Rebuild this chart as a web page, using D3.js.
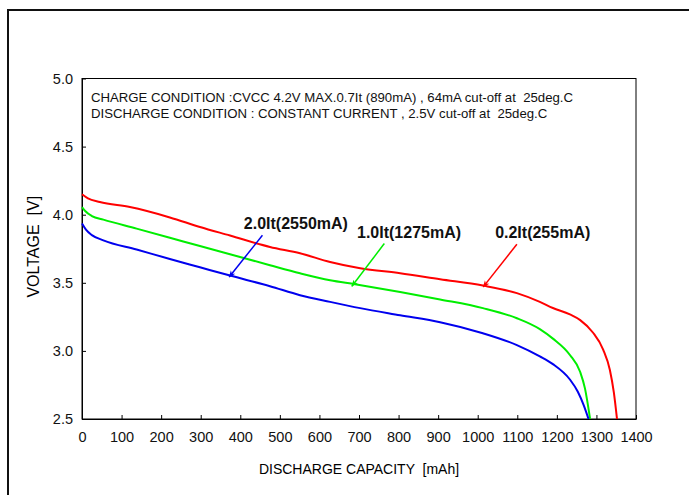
<!DOCTYPE html>
<html>
<head>
<meta charset="utf-8">
<script src="https://cdn.jsdelivr.net/npm/d3@7"></script>
<style>
  body { margin: 0; background: #fff; }
  svg text { font-family: "Liberation Sans", Arial, sans-serif; white-space: pre; }
</style>
</head>
<body>
<svg id="chart" width="689" height="495"></svg>
<script>
// discharge curves
const capacity02 = [0, 15, 45, 121, 222, 298, 374, 475, 551, 627, 703, 804, 905, 1013, 1099, 1157, 1190, 1233, 1259, 1291, 1317, 1334, 1344, 1352];
const voltage02 = [4.15, 4.12, 4.093, 4.056, 3.98, 3.91, 3.847, 3.763, 3.717, 3.653, 3.607, 3.57, 3.526, 3.48, 3.424, 3.36, 3.315, 3.268, 3.226, 3.135, 3.01, 2.86, 2.695, 2.5];

const capacity10 = [0, 8, 25, 54, 138, 222, 298, 374, 475, 551, 627, 690, 804, 905, 1013, 1099, 1157, 1190, 1233, 1259, 1271, 1284];
const voltage10 = [4.056, 4.027, 3.99, 3.964, 3.898, 3.831, 3.77, 3.71, 3.629, 3.57, 3.519, 3.49, 3.433, 3.378, 3.314, 3.24, 3.16, 3.09, 2.97, 2.845, 2.725, 2.5];

const capacity20 = [0, 10, 25, 54, 138, 222, 298, 374, 475, 551, 627, 703, 804, 905, 1013, 1099, 1157, 1190, 1233, 1253, 1268, 1280];
const voltage20 = [3.935, 3.89, 3.85, 3.812, 3.744, 3.675, 3.614, 3.553, 3.475, 3.409, 3.36, 3.314, 3.262, 3.211, 3.13, 3.043, 2.96, 2.903, 2.79, 2.70, 2.60, 2.5];

const seriesNames = ['0.2It(255mA)', '1.0It(1275mA)', '2.0It(2550mA)'];
const seriesColors = ['#ff0000', '#00ee00', '#0000ee'];
// label anchor [mAh, V], arrow tail and tip [mAh, V]
const labelAt = [[1044, 3.83], [695, 3.83], [409, 3.893]];
const arrowTail = [[1099, 3.783], [764, 3.788], [456, 3.849]];
const arrowTip = [[1014, 3.47], [682, 3.475], [372, 3.543]];

const xTicks = d3.range(0, 1401, 100);
const yTicks = [2.5, 3.0, 3.5, 4.0, 4.5, 5.0];
const conditionLines = [
  'CHARGE CONDITION :CVCC 4.2V MAX.0.7It (890mA) , 64mA cut-off at  25deg.C',
  'DISCHARGE CONDITION : CONSTANT CURRENT , 2.5V cut-off at  25deg.C'
];

const svg = d3.select('#chart');
const plot = { left: 82, right: 636, top: 78.5, bottom: 419 };

// outer frame, cut off by the page edge like the reference
svg.append('rect')
  .attr('x', 8).attr('y', 10)
  .attr('width', 720).attr('height', 520)
  .attr('fill', 'none')
  .attr('stroke', '#111')
  .attr('stroke-width', 2);

const x = d3.scaleLinear().domain([0, 1400]).range([plot.left, plot.right]);
const y = d3.scaleLinear().domain([2.5, 5.0]).range([plot.bottom, plot.top]);

svg.append('rect')
  .attr('x', plot.left).attr('y', plot.top)
  .attr('width', plot.right - plot.left)
  .attr('height', plot.bottom - plot.top)
  .attr('fill', 'none')
  .attr('stroke', '#000')
  .attr('stroke-width', 1);

const xAxis = svg.append('g')
  .attr('transform', `translate(0,${plot.bottom})`)
  .call(d3.axisBottom(x).tickValues(xTicks).tickFormat(d3.format('d'))
    .tickSizeInner(-4).tickSizeOuter(0).tickPadding(13));
const yAxis = svg.append('g')
  .attr('transform', `translate(${plot.left},0)`)
  .call(d3.axisLeft(y).tickValues(yTicks).tickFormat(d3.format('.1f'))
    .tickSizeInner(-4).tickSizeOuter(0).tickPadding(9));

[xAxis, yAxis].forEach(g => {
  g.selectAll('text').style('font-size', '14.5px').attr('fill', '#111');
  g.selectAll('line, path').attr('stroke', '#000');
  g.attr('font-family', null);
});

svg.append('text')
  .attr('x', (plot.left + plot.right) / 2)
  .attr('y', 474)
  .attr('text-anchor', 'middle')
  .style('font-size', '14px')
  .text('DISCHARGE CAPACITY  [mAh]');

svg.append('text')
  .attr('transform', `translate(39,${(plot.top + plot.bottom) / 2 - 2}) rotate(-90)`)
  .attr('text-anchor', 'middle')
  .style('font-size', '16px')
  .text('VOLTAGE  [V]');

svg.selectAll('.condition')
  .data(conditionLines)
  .enter()
  .append('text')
  .attr('class', 'condition')
  .attr('x', plot.left + 9)
  .attr('y', (d, i) => plot.top + 23 + i * 16)
  .style('font-size', '13.2px')
  .attr('fill', '#111')
  .text(d => d);

const series = [
  { caps: capacity02, volts: voltage02 },
  { caps: capacity10, volts: voltage10 },
  { caps: capacity20, volts: voltage20 }
].map((s, i) => ({
  name: seriesNames[i],
  color: seriesColors[i],
  points: s.caps.map((c, j) => [c, s.volts[j]]),
  label: labelAt[i],
  tail: arrowTail[i],
  tip: arrowTip[i]
}));

const line = d3.line()
  .x(d => x(d[0]))
  .y(d => y(d[1]))
  .curve(d3.curveMonotoneX);

const defs = svg.append('defs');
series.forEach((s, i) => {
  defs.append('marker')
    .attr('id', `head${i}`)
    .attr('viewBox', '0 0 10 10')
    .attr('refX', 9).attr('refY', 5)
    .attr('markerWidth', 7).attr('markerHeight', 7)
    .attr('markerUnits', 'userSpaceOnUse')
    .attr('orient', 'auto')
    .append('path')
    .attr('d', 'M0,1 L10,5 L0,9 L3,5 Z')
    .attr('fill', s.color);
});

svg.append('g')
  .selectAll('path')
  .data(series)
  .enter()
  .append('path')
  .attr('d', s => line(s.points))
  .attr('fill', 'none')
  .attr('stroke', s => s.color)
  .attr('stroke-width', 2);

svg.append('g')
  .selectAll('line')
  .data(series)
  .enter()
  .append('line')
  .attr('x1', s => x(s.tail[0]))
  .attr('y1', s => y(s.tail[1]))
  .attr('x2', s => x(s.tip[0]))
  .attr('y2', s => y(s.tip[1]))
  .attr('stroke', s => s.color)
  .attr('stroke-width', 1.5)
  .attr('marker-end', (s, i) => `url(#head${i})`);

svg.append('g')
  .selectAll('text')
  .data(series)
  .enter()
  .append('text')
  .attr('x', s => x(s.label[0]))
  .attr('y', s => y(s.label[1]))
  .style('font-size', '16px')
  .style('font-weight', 'bold')
  .attr('fill', '#111')
  .text(s => s.name);
</script>
</body>
</html>
